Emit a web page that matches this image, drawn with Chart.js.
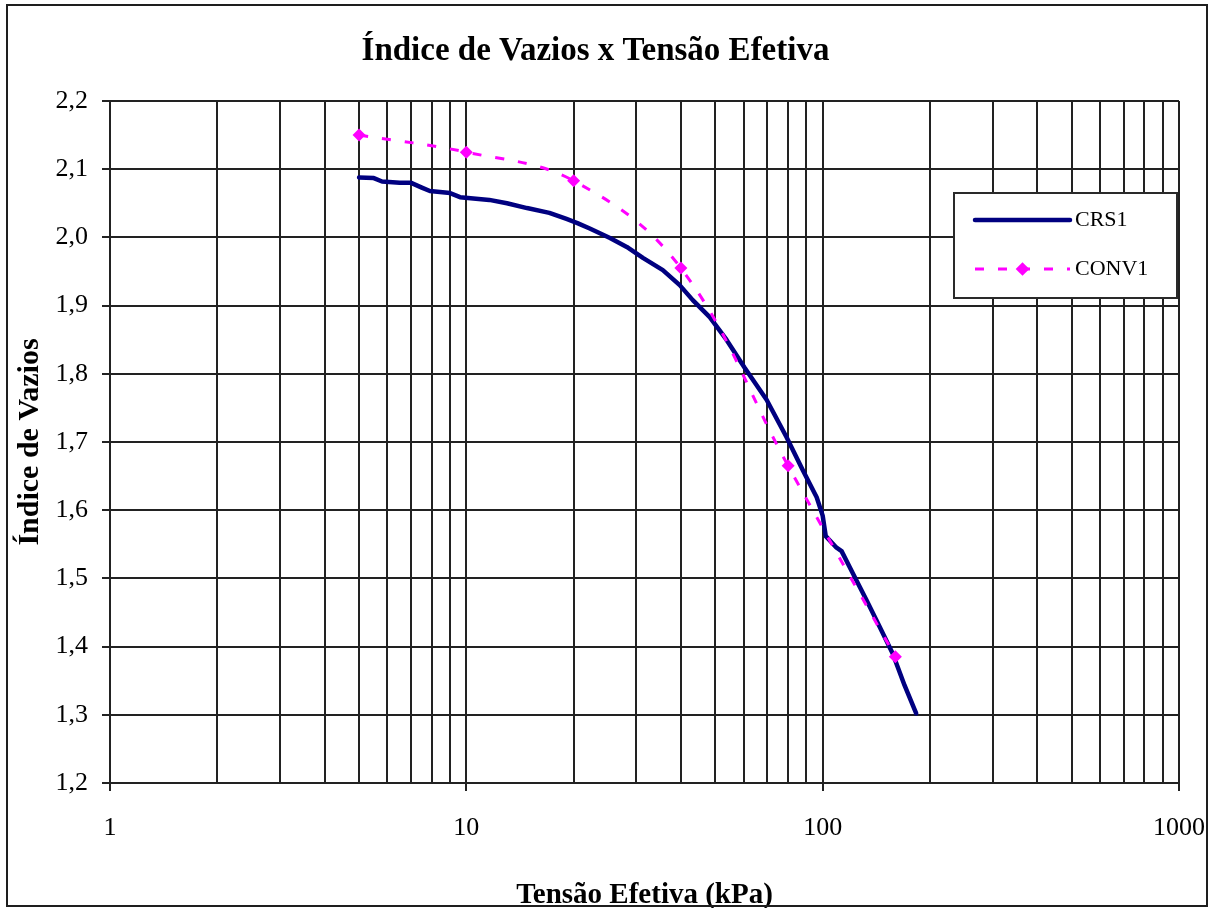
<!DOCTYPE html>
<html>
<head>
<meta charset="utf-8">
<script src="https://cdn.jsdelivr.net/npm/chart.js@4"></script>
<style>
  html, body { margin: 0; padding: 0; background: #ffffff; }
  canvas { display: block; }
</style>
</head>
<body>
<canvas id="chart" width="1216" height="908"></canvas>
<script>
// Effective stress (kPa) and void ratio, CRS test
const crsStress = [5.0, 5.5, 5.8, 6.5, 7.0, 7.5, 7.9, 9.0, 9.6, 11.6, 13.0, 14.8, 17.1, 19.1, 20.5, 22.2,
  25.3, 28.2, 31.3, 35.6, 39.7, 43.2, 48.2, 53.7, 60.4, 69.6, 79.2, 87.9, 96.2, 100.0, 102.0,
  109.4, 113.0, 121.4, 132.8, 144.5, 157.2, 169.8, 183.0];
const crsVoid = [2.088, 2.087, 2.082, 2.080, 2.080, 2.073, 2.068, 2.065, 2.059, 2.055, 2.050, 2.043, 2.036, 2.027, 2.021, 2.013,
  1.999, 1.986, 1.970, 1.952, 1.930, 1.908, 1.883, 1.850, 1.809, 1.762, 1.707, 1.659, 1.619, 1.592, 1.562,
  1.545, 1.540, 1.508, 1.468, 1.429, 1.390, 1.343, 1.302];

// Effective stress (kPa) and void ratio, conventional oedometer test
const convStress = [5, 10, 20, 40, 80, 160];
const convVoid = [2.150, 2.125, 2.083, 1.955, 1.665, 1.385];

// Axis ranges, grid positions and labelled ticks
const xGridValues = [1, 2, 3, 4, 5, 6, 7, 8, 9, 10, 20, 30, 40, 50, 60, 70, 80, 90, 100,
  200, 300, 400, 500, 600, 700, 800, 900, 1000];
const xLabelValues = [1, 10, 100, 1000];
const yMin = 1.2, yMax = 2.2, yStep = 0.1;

const seriesNames = ['CRS1', 'CONV1'];
const chartTitle = 'Índice de Vazios x Tensão Efetiva';
const xTitle = 'Tensão Efetiva (kPa)';
const yTitle = 'Índice de Vazios';

const SERIF = '"Liberation Serif", "Times New Roman", serif';
const NAVY = '#000080';
const MAGENTA = '#ff00ff';
const GRID = '#222222';

const toPoints = (xs, ys) => xs.map((x, i) => ({ x: x, y: ys[i] }));
const isDecade = v => Math.abs(Math.log10(v) - Math.round(Math.log10(v))) < 1e-9;

// White page with a thin frame around the whole figure
const framePlugin = {
  id: 'frame',
  beforeDraw(chart) {
    const ctx = chart.ctx;
    ctx.save();
    ctx.fillStyle = '#ffffff';
    ctx.fillRect(0, 0, chart.width, chart.height);
    ctx.restore();
  },
  afterDraw(chart) {
    const ctx = chart.ctx;
    ctx.save();
    ctx.strokeStyle = '#1e1e1e';
    ctx.lineWidth = 2;
    ctx.strokeRect(7, 5, chart.width - 16, chart.height - 7);
    ctx.restore();
  }
};

// Boxed legend inside the plot area, upper right
const boxLegendPlugin = {
  id: 'boxLegend',
  afterDatasetsDraw(chart) {
    const ctx = chart.ctx;
    const a = chart.chartArea;
    const x0 = a.right - 225, y0 = a.top + 92, w = 223, h = 105;
    ctx.save();
    ctx.fillStyle = '#ffffff';
    ctx.fillRect(x0, y0, w, h);
    ctx.strokeStyle = '#2a2a2a';
    ctx.lineWidth = 2;
    ctx.strokeRect(x0, y0, w, h);

    const order = [1, 0];
    order.forEach((di, row) => {
      const ds = chart.data.datasets[di];
      const y = y0 + 27 + row * 49;
      const lx0 = x0 + 21, lx1 = x0 + 116;
      ctx.save();
      ctx.strokeStyle = ds.borderColor;
      ctx.lineWidth = ds.borderWidth;
      ctx.lineCap = ds.borderDash ? 'butt' : 'round';
      ctx.setLineDash(ds.borderDash || []);
      ctx.beginPath();
      ctx.moveTo(lx0, y);
      ctx.lineTo(lx1, y);
      ctx.stroke();
      ctx.restore();
      if (ds.pointRadius > 0) {
        const cx = (lx0 + lx1) / 2, r = ds.pointRadius * 1.05;
        ctx.fillStyle = ds.pointBackgroundColor;
        ctx.beginPath();
        ctx.moveTo(cx, y - r);
        ctx.lineTo(cx + r, y);
        ctx.lineTo(cx, y + r);
        ctx.lineTo(cx - r, y);
        ctx.closePath();
        ctx.fill();
      }
      ctx.fillStyle = '#000000';
      ctx.font = '22px ' + SERIF;
      ctx.textBaseline = 'middle';
      ctx.textAlign = 'left';
      ctx.fillText(ds.label, x0 + 121, y);
    });
    ctx.restore();
  }
};

new Chart(document.getElementById('chart'), {
  type: 'line',
  data: {
    datasets: [
      {
        label: seriesNames[1],
        data: toPoints(convStress, convVoid),
        borderColor: MAGENTA,
        backgroundColor: MAGENTA,
        borderWidth: 3,
        borderDash: [9, 14],
        tension: 0.38,
        pointStyle: 'rectRot',
        pointRadius: 6.5,
        pointBackgroundColor: MAGENTA,
        pointBorderColor: MAGENTA,
        pointBorderWidth: 0,
        order: 1
      },
      {
        label: seriesNames[0],
        data: toPoints(crsStress, crsVoid),
        borderColor: NAVY,
        backgroundColor: NAVY,
        borderWidth: 4.5,
        tension: 0,
        pointRadius: 0,
        borderJoinStyle: 'round',
        borderCapStyle: 'round',
        order: 2
      }
    ]
  },
  options: {
    responsive: false,
    animation: false,
    devicePixelRatio: 1,
    layout: { padding: { left: 12, right: 37, top: 0, bottom: 0 } },
    plugins: {
      legend: { display: false },
      tooltip: { enabled: false },
      title: {
        display: true,
        text: chartTitle,
        color: '#000000',
        font: { family: SERIF, size: 33, weight: 'bold' },
        padding: { top: 32, bottom: 29.4 }
      }
    },
    scales: {
      x: {
        type: 'logarithmic',
        min: 1,
        max: 1000,
        afterBuildTicks(scale) {
          scale.ticks = xGridValues.map(v => ({ value: v, major: isDecade(v) }));
        },
        afterFit(scale) {
          scale.height = 125;
          scale.paddingLeft = 0;
          scale.paddingRight = 0;
        },
        ticks: {
          autoSkip: false,
          maxRotation: 0,
          color: '#000000',
          padding: 22,
          font: { family: SERIF, size: 26 },
          callback: value => xLabelValues.includes(value) ? String(value) : ''
        },
        grid: {
          color: GRID,
          lineWidth: 2,
          tickLength: 8,
          tickColor: ctx => (ctx.tick && isDecade(ctx.tick.value)) ? GRID : 'rgba(0,0,0,0)'
        },
        border: { color: GRID, width: 2 },
        title: {
          display: true,
          text: xTitle,
          color: '#000000',
          font: { family: SERIF, size: 29, weight: 'bold' },
          padding: { top: 0, bottom: -5 }
        }
      },
      y: {
        type: 'linear',
        min: yMin,
        max: yMax,
        afterFit(scale) { scale.width = 98; },
        ticks: {
          stepSize: yStep,
          color: '#000000',
          padding: 14,
          font: { family: SERIF, size: 26 },
          callback: value => Number(value).toFixed(1).replace('.', ',')
        },
        grid: {
          color: GRID,
          lineWidth: 2,
          tickLength: 8,
          tickColor: GRID
        },
        border: { color: GRID, width: 2 },
        title: {
          display: true,
          text: yTitle,
          color: '#000000',
          font: { family: SERIF, size: 30, weight: 'bold' },
          padding: { top: 0, bottom: 0 }
        }
      }
    }
  },
  plugins: [framePlugin, boxLegendPlugin]
});
</script>
</body>
</html>
